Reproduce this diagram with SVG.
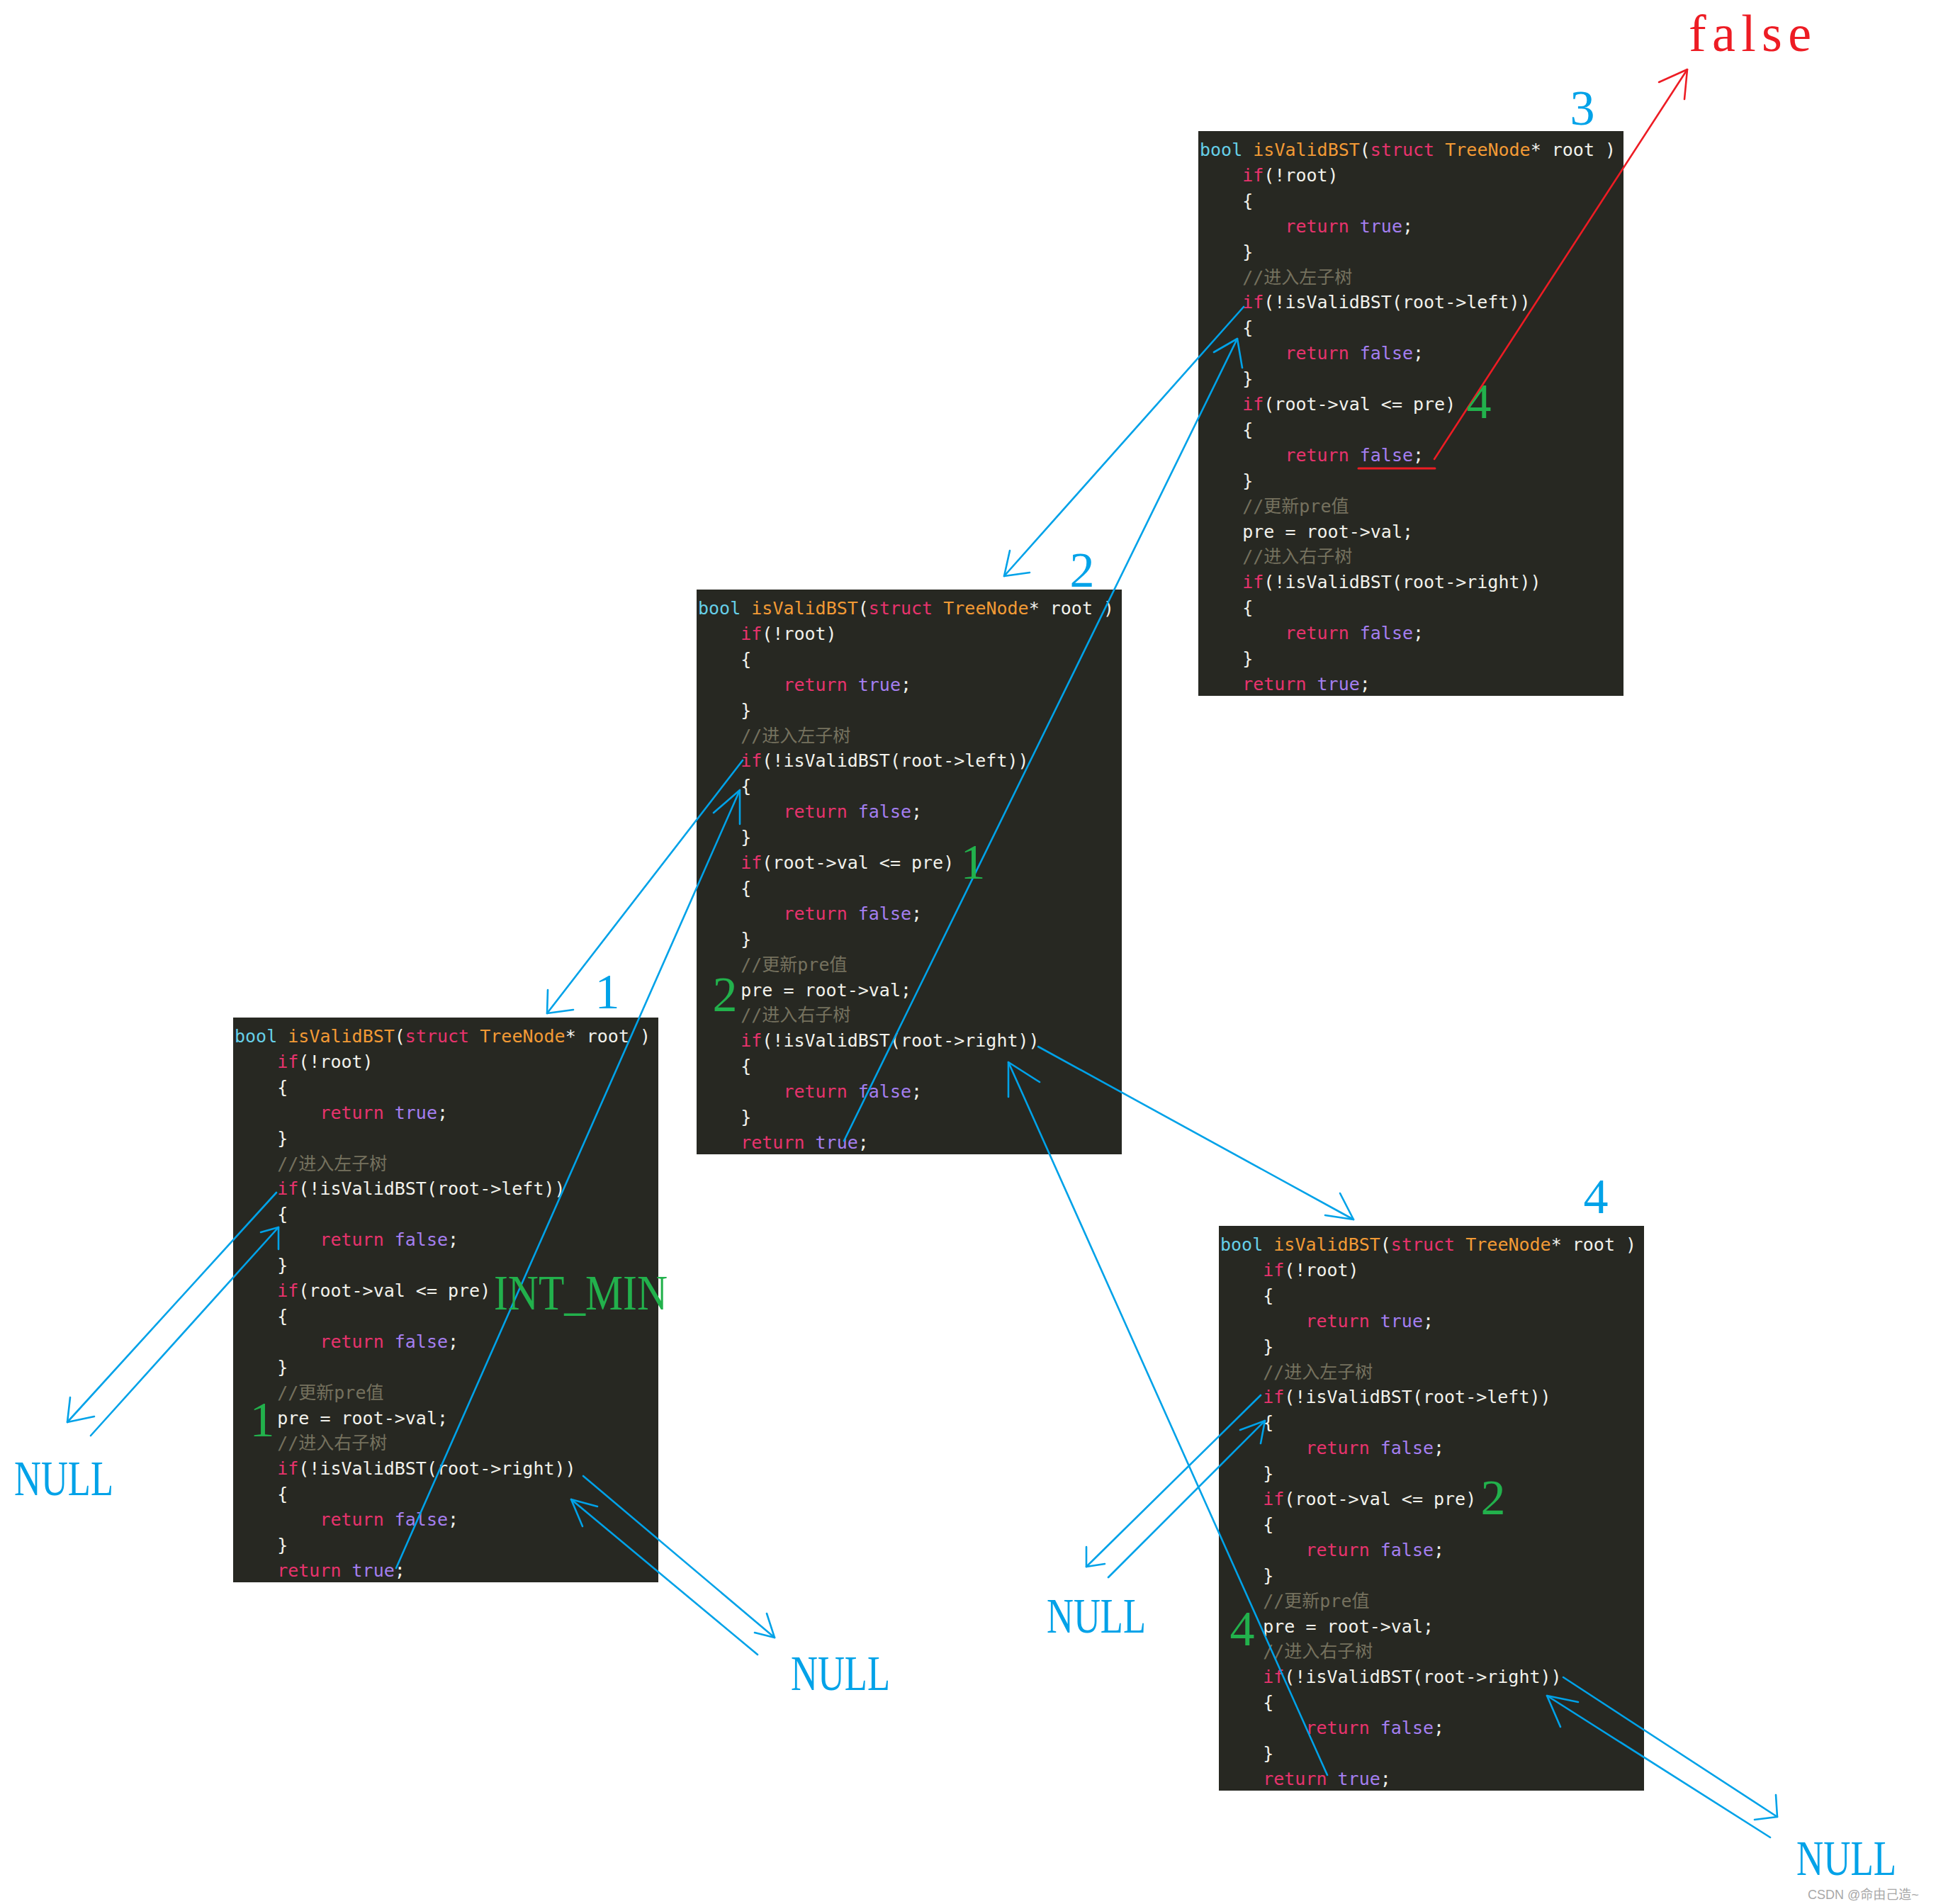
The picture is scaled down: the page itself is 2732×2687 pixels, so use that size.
<svg xmlns="http://www.w3.org/2000/svg" width="2732" height="2687" viewBox="0 0 2732 2687">
<style>
.bg{fill:#272822}
.c{font-family:"DejaVu Sans Mono","Noto Sans CJK SC",monospace;font-size:25px;fill:#f2f2ec}
.ty{fill:#66cfe8}
.fn{fill:#f29a35}
.kw{fill:#e8336d}
.bo{fill:#a47ff0}
.cm{fill:#75715e}
.ln{fill:none;stroke:#00a2e8;stroke-width:2.6;stroke-linecap:round;stroke-linejoin:round}
.rd{fill:none;stroke:#ed1c24;stroke-width:2.6;stroke-linecap:round;stroke-linejoin:round}
.ann{font-family:"Liberation Serif","Times New Roman",serif;font-size:70px}
.blue{fill:#00a2e8}
.green{fill:#22b14c}
.red{fill:#ed1c24}
.wm{font-family:"Liberation Sans","Noto Sans CJK SC",sans-serif;font-size:18px;fill:#a8a8a8}
</style>

<g id="node-3" transform="translate(1691,185)">
<rect class="bg" x="0" y="0" width="600" height="797"/>
<text class="c" x="2" y="35"><tspan class="ty">bool</tspan> <tspan class="fn">isValidBST</tspan>(<tspan class="kw">struct</tspan> <tspan class="fn">TreeNode</tspan>* root )</text>
<text class="c" x="62.2" y="70.9"><tspan class="kw">if</tspan>(!root)</text>
<text class="c" x="62.2" y="106.8">{</text>
<text class="c" x="122.4" y="142.7"><tspan class="kw">return</tspan> <tspan class="bo">true</tspan>;</text>
<text class="c" x="62.2" y="178.6">}</text>
<text class="c cm" x="62.2" y="214.5">//进入左子树</text>
<text class="c" x="62.2" y="250.4"><tspan class="kw">if</tspan>(!isValidBST(root-&gt;left))</text>
<text class="c" x="62.2" y="286.3">{</text>
<text class="c" x="122.4" y="322.2"><tspan class="kw">return</tspan> <tspan class="bo">false</tspan>;</text>
<text class="c" x="62.2" y="358.1">}</text>
<text class="c" x="62.2" y="394"><tspan class="kw">if</tspan>(root-&gt;val &lt;= pre)</text>
<text class="c" x="62.2" y="429.9">{</text>
<text class="c" x="122.4" y="465.8"><tspan class="kw">return</tspan> <tspan class="bo">false</tspan>;</text>
<text class="c" x="62.2" y="501.7">}</text>
<text class="c cm" x="62.2" y="537.6">//更新pre值</text>
<text class="c" x="62.2" y="573.5">pre = root-&gt;val;</text>
<text class="c cm" x="62.2" y="609.4">//进入右子树</text>
<text class="c" x="62.2" y="645.3"><tspan class="kw">if</tspan>(!isValidBST(root-&gt;right))</text>
<text class="c" x="62.2" y="681.2">{</text>
<text class="c" x="122.4" y="717.1"><tspan class="kw">return</tspan> <tspan class="bo">false</tspan>;</text>
<text class="c" x="62.2" y="753">}</text>
<text class="c" x="62.2" y="788.9"><tspan class="kw">return</tspan> <tspan class="bo">true</tspan>;</text>
</g>

<g id="node-2" transform="translate(983,832)">
<rect class="bg" x="0" y="0" width="600" height="797"/>
<text class="c" x="2" y="35"><tspan class="ty">bool</tspan> <tspan class="fn">isValidBST</tspan>(<tspan class="kw">struct</tspan> <tspan class="fn">TreeNode</tspan>* root )</text>
<text class="c" x="62.2" y="70.9"><tspan class="kw">if</tspan>(!root)</text>
<text class="c" x="62.2" y="106.8">{</text>
<text class="c" x="122.4" y="142.7"><tspan class="kw">return</tspan> <tspan class="bo">true</tspan>;</text>
<text class="c" x="62.2" y="178.6">}</text>
<text class="c cm" x="62.2" y="214.5">//进入左子树</text>
<text class="c" x="62.2" y="250.4"><tspan class="kw">if</tspan>(!isValidBST(root-&gt;left))</text>
<text class="c" x="62.2" y="286.3">{</text>
<text class="c" x="122.4" y="322.2"><tspan class="kw">return</tspan> <tspan class="bo">false</tspan>;</text>
<text class="c" x="62.2" y="358.1">}</text>
<text class="c" x="62.2" y="394"><tspan class="kw">if</tspan>(root-&gt;val &lt;= pre)</text>
<text class="c" x="62.2" y="429.9">{</text>
<text class="c" x="122.4" y="465.8"><tspan class="kw">return</tspan> <tspan class="bo">false</tspan>;</text>
<text class="c" x="62.2" y="501.7">}</text>
<text class="c cm" x="62.2" y="537.6">//更新pre值</text>
<text class="c" x="62.2" y="573.5">pre = root-&gt;val;</text>
<text class="c cm" x="62.2" y="609.4">//进入右子树</text>
<text class="c" x="62.2" y="645.3"><tspan class="kw">if</tspan>(!isValidBST(root-&gt;right))</text>
<text class="c" x="62.2" y="681.2">{</text>
<text class="c" x="122.4" y="717.1"><tspan class="kw">return</tspan> <tspan class="bo">false</tspan>;</text>
<text class="c" x="62.2" y="753">}</text>
<text class="c" x="62.2" y="788.9"><tspan class="kw">return</tspan> <tspan class="bo">true</tspan>;</text>
</g>

<g id="node-1" transform="translate(329,1436)">
<rect class="bg" x="0" y="0" width="600" height="797"/>
<text class="c" x="2" y="35"><tspan class="ty">bool</tspan> <tspan class="fn">isValidBST</tspan>(<tspan class="kw">struct</tspan> <tspan class="fn">TreeNode</tspan>* root )</text>
<text class="c" x="62.2" y="70.9"><tspan class="kw">if</tspan>(!root)</text>
<text class="c" x="62.2" y="106.8">{</text>
<text class="c" x="122.4" y="142.7"><tspan class="kw">return</tspan> <tspan class="bo">true</tspan>;</text>
<text class="c" x="62.2" y="178.6">}</text>
<text class="c cm" x="62.2" y="214.5">//进入左子树</text>
<text class="c" x="62.2" y="250.4"><tspan class="kw">if</tspan>(!isValidBST(root-&gt;left))</text>
<text class="c" x="62.2" y="286.3">{</text>
<text class="c" x="122.4" y="322.2"><tspan class="kw">return</tspan> <tspan class="bo">false</tspan>;</text>
<text class="c" x="62.2" y="358.1">}</text>
<text class="c" x="62.2" y="394"><tspan class="kw">if</tspan>(root-&gt;val &lt;= pre)</text>
<text class="c" x="62.2" y="429.9">{</text>
<text class="c" x="122.4" y="465.8"><tspan class="kw">return</tspan> <tspan class="bo">false</tspan>;</text>
<text class="c" x="62.2" y="501.7">}</text>
<text class="c cm" x="62.2" y="537.6">//更新pre值</text>
<text class="c" x="62.2" y="573.5">pre = root-&gt;val;</text>
<text class="c cm" x="62.2" y="609.4">//进入右子树</text>
<text class="c" x="62.2" y="645.3"><tspan class="kw">if</tspan>(!isValidBST(root-&gt;right))</text>
<text class="c" x="62.2" y="681.2">{</text>
<text class="c" x="122.4" y="717.1"><tspan class="kw">return</tspan> <tspan class="bo">false</tspan>;</text>
<text class="c" x="62.2" y="753">}</text>
<text class="c" x="62.2" y="788.9"><tspan class="kw">return</tspan> <tspan class="bo">true</tspan>;</text>
</g>

<g id="node-4" transform="translate(1720,1730)">
<rect class="bg" x="0" y="0" width="600" height="797"/>
<text class="c" x="2" y="35"><tspan class="ty">bool</tspan> <tspan class="fn">isValidBST</tspan>(<tspan class="kw">struct</tspan> <tspan class="fn">TreeNode</tspan>* root )</text>
<text class="c" x="62.2" y="70.9"><tspan class="kw">if</tspan>(!root)</text>
<text class="c" x="62.2" y="106.8">{</text>
<text class="c" x="122.4" y="142.7"><tspan class="kw">return</tspan> <tspan class="bo">true</tspan>;</text>
<text class="c" x="62.2" y="178.6">}</text>
<text class="c cm" x="62.2" y="214.5">//进入左子树</text>
<text class="c" x="62.2" y="250.4"><tspan class="kw">if</tspan>(!isValidBST(root-&gt;left))</text>
<text class="c" x="62.2" y="286.3">{</text>
<text class="c" x="122.4" y="322.2"><tspan class="kw">return</tspan> <tspan class="bo">false</tspan>;</text>
<text class="c" x="62.2" y="358.1">}</text>
<text class="c" x="62.2" y="394"><tspan class="kw">if</tspan>(root-&gt;val &lt;= pre)</text>
<text class="c" x="62.2" y="429.9">{</text>
<text class="c" x="122.4" y="465.8"><tspan class="kw">return</tspan> <tspan class="bo">false</tspan>;</text>
<text class="c" x="62.2" y="501.7">}</text>
<text class="c cm" x="62.2" y="537.6">//更新pre值</text>
<text class="c" x="62.2" y="573.5">pre = root-&gt;val;</text>
<text class="c cm" x="62.2" y="609.4">//进入右子树</text>
<text class="c" x="62.2" y="645.3"><tspan class="kw">if</tspan>(!isValidBST(root-&gt;right))</text>
<text class="c" x="62.2" y="681.2">{</text>
<text class="c" x="122.4" y="717.1"><tspan class="kw">return</tspan> <tspan class="bo">false</tspan>;</text>
<text class="c" x="62.2" y="753">}</text>
<text class="c" x="62.2" y="788.9"><tspan class="kw">return</tspan> <tspan class="bo">true</tspan>;</text>
</g>

<g id="connectors">
<line class="ln" x1="1755" y1="433" x2="1417" y2="813"/>
<polyline class="ln" points="1425,777 1417,813 1453,808"/>
<line class="ln" x1="1191" y1="1610" x2="1746" y2="478"/>
<polyline class="ln" points="1713,497 1746,478 1753,519"/>
<line class="ln" x1="1048" y1="1073" x2="772" y2="1430"/>
<polyline class="ln" points="773,1397 772,1430 809,1425"/>
<line class="ln" x1="559" y1="2213" x2="1044" y2="1115"/>
<polyline class="ln" points="1007,1147 1044,1115 1044,1163"/>
<line class="ln" x1="390" y1="1683" x2="95" y2="2007"/>
<polyline class="ln" points="99,1972 95,2007 133,1999"/>
<line class="ln" x1="128" y1="2026" x2="393" y2="1732"/>
<polyline class="ln" points="368,1739 393,1732 393,1763"/>
<line class="ln" x1="823" y1="2083" x2="1093" y2="2311"/>
<polyline class="ln" points="1082,2277 1093,2311 1065,2304"/>
<line class="ln" x1="1069" y1="2335" x2="806" y2="2116"/>
<polyline class="ln" points="843,2126 806,2116 822,2154"/>
<line class="ln" x1="1465" y1="1477" x2="1910" y2="1721"/>
<polyline class="ln" points="1891,1684 1910,1721 1870,1715"/>
<line class="ln" x1="1873" y1="2505" x2="1423" y2="1499"/>
<polyline class="ln" points="1467,1527 1423,1499 1423,1548"/>
<line class="ln" x1="1779" y1="1969" x2="1533" y2="2211"/>
<polyline class="ln" points="1533,2183 1533,2211 1559,2207"/>
<line class="ln" x1="1564" y1="2226" x2="1785" y2="2005"/>
<polyline class="ln" points="1750,2018 1785,2005 1779,2037"/>
<line class="ln" x1="2206" y1="2367" x2="2508" y2="2564"/>
<polyline class="ln" points="2506,2533 2508,2564 2476,2568"/>
<line class="ln" x1="2498" y1="2593" x2="2183" y2="2393"/>
<polyline class="ln" points="2227,2402 2183,2393 2202,2437"/>
<line class="rd" x1="2024" y1="648" x2="2381" y2="98"/>
<polyline class="rd" points="2341,116 2381,98 2377,140"/>
<line class="rd" x1="1917" y1="661" x2="2025" y2="661" style="stroke-width:3"/>
</g>

<g id="labels">
<text class="ann red" x="2383" y="72" textLength="173" lengthAdjust="spacing" style="font-size:74px">false</text>
<text class="ann blue" x="2233" y="176" text-anchor="middle">3</text>
<text class="ann blue" x="1527" y="828" text-anchor="middle">2</text>
<text class="ann blue" x="857" y="1423" text-anchor="middle">1</text>
<text class="ann blue" x="2252" y="1712" text-anchor="middle">4</text>
<text class="ann green" x="2087" y="590" text-anchor="middle">4</text>
<text class="ann green" x="1373" y="1240" text-anchor="middle">1</text>
<text class="ann green" x="1023" y="1427" text-anchor="middle">2</text>
<text class="ann green" x="370" y="2027" text-anchor="middle">1</text>
<text class="ann green" x="2107" y="2137" text-anchor="middle">2</text>
<text class="ann green" x="1753" y="2322" text-anchor="middle">4</text>
<text class="ann green" x="697" y="1848" textLength="245" lengthAdjust="spacingAndGlyphs">INT_MIN</text>
<text class="ann blue" x="20" y="2110" textLength="140" lengthAdjust="spacingAndGlyphs">NULL</text>
<text class="ann blue" x="1116" y="2385" textLength="140" lengthAdjust="spacingAndGlyphs">NULL</text>
<text class="ann blue" x="1477" y="2304" textLength="140" lengthAdjust="spacingAndGlyphs">NULL</text>
<text class="ann blue" x="2535" y="2646" textLength="141" lengthAdjust="spacingAndGlyphs">NULL</text>
<text class="wm" x="2551" y="2680">CSDN @命由己造~</text>
</g>
</svg>
